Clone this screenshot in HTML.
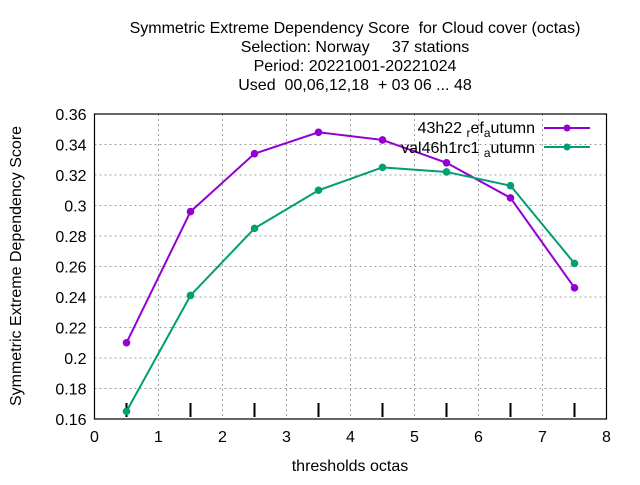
<!DOCTYPE html>
<html><head><meta charset="utf-8"><style>
body{margin:0;background:#fff}
svg text{font-family:"Liberation Sans",sans-serif;fill:#000;white-space:pre}
</style></head><body>
<svg id="c" width="640" height="480" xmlns="http://www.w3.org/2000/svg">
<g font-size="16" text-anchor="middle">
<text x="355" y="33">Symmetric Extreme Dependency Score  for Cloud cover (octas)</text>
<text x="355" y="52">Selection: Norway     37 stations</text>
<text x="355" y="71">Period: 20221001-20221024</text>
<text x="355" y="90">Used  00,06,12,18  + 03 06 ... 48</text>
</g>
<g id="grid"></g>
<g id="axes"></g>
<g id="series"></g>
<text x="350" y="471" font-size="16" text-anchor="middle">thresholds octas</text>
<text transform="translate(21,266) rotate(-90)" font-size="16" text-anchor="middle">Symmetric Extreme Dependency Score</text>
<g font-size="16">
<g>
<text x="535" y="133" text-anchor="end">43h22 <tspan font-size="12" dy="4">r</tspan><tspan dy="-4">ef</tspan><tspan font-size="12" dy="4">a</tspan><tspan dy="-4">utumn</tspan></text>
<line x1="544" y1="128" x2="590" y2="128" stroke="#9400d3" stroke-width="2"/><circle cx="567" cy="128" r="3.5" fill="#9400d3"/>
</g>
<g>
<text x="535" y="153" text-anchor="end">val46h1rc1 <tspan font-size="12" dy="4">a</tspan><tspan dy="-4">utumn</tspan></text>
<line x1="544" y1="147" x2="590" y2="147" stroke="#009e73" stroke-width="2"/><circle cx="567" cy="147" r="3.5" fill="#009e73"/>
</g>
</g>
</svg>
<script>
const xTicks=[0,1,2,3,4,5,6,7,8];
const yTicks=[0.16,0.18,0.2,0.22,0.24,0.26,0.28,0.3,0.32,0.34,0.36];
const yLabels=["0.16","0.18","0.2","0.22","0.24","0.26","0.28","0.3","0.32","0.34","0.36"];
const categories=[0.5,1.5,2.5,3.5,4.5,5.5,6.5,7.5];
const refValues=[0.210,0.296,0.334,0.348,0.343,0.328,0.305,0.246];
const valValues=[0.165,0.241,0.285,0.310,0.325,0.322,0.313,0.262];
const L=94.5,R=606.5,T=114,B=419;
const sx=v=>L+(v-0)/8*(R-L);
const sy=v=>B-(v-0.16)/0.2*(B-T);
const NS="http://www.w3.org/2000/svg";
function mk(tag,attrs,parent){const e=document.createElementNS(NS,tag);for(const k in attrs)e.setAttribute(k,attrs[k]);parent.appendChild(e);return e;}
const grid=document.getElementById('grid'),axes=document.getElementById('axes'),ser=document.getElementById('series');
xTicks.forEach(t=>{
 if(t>0&&t<8){const l=mk('line',{x1:sx(t),x2:sx(t),y1:T,y2:B,stroke:'#a0a0a0','stroke-dasharray':'2,3'},grid);}
 const tx=mk('text',{x:sx(t),y:B+23,'font-size':16,'text-anchor':'middle'},axes);tx.textContent=t;
 
});
yTicks.forEach((t,i)=>{
 if(i>0&&i<yTicks.length-1){const l=mk('line',{x1:L,x2:R,y1:sy(t),y2:sy(t),stroke:'#a0a0a0','stroke-dasharray':'2,3'},grid);}
 const tx=mk('text',{x:L-8,y:sy(t)+6,'font-size':16,'text-anchor':'end'},axes);tx.textContent=yLabels[i];
 
});
const fr=mk('rect',{x:L,y:T,width:R-L,height:B-T,fill:'none',stroke:'#000','stroke-width':1.2},axes);

categories.forEach(c=>{const m=mk('line',{x1:sx(c),x2:sx(c),y1:403,y2:417,stroke:'#000','stroke-width':2},axes);
 });
function draw(vals,col,name){
 const p=mk('polyline',{points:categories.map((c,i)=>sx(c)+','+sy(vals[i])).join(' '),fill:'none',stroke:col,'stroke-width':2},ser);
 
 categories.forEach((c,i)=>{const d=mk('circle',{cx:sx(c),cy:sy(vals[i]),r:3.8,fill:col},ser);
  });
}
draw(refValues,'#9400d3','ref-series');
draw(valValues,'#009e73','val-series');
</script>
</body></html>
